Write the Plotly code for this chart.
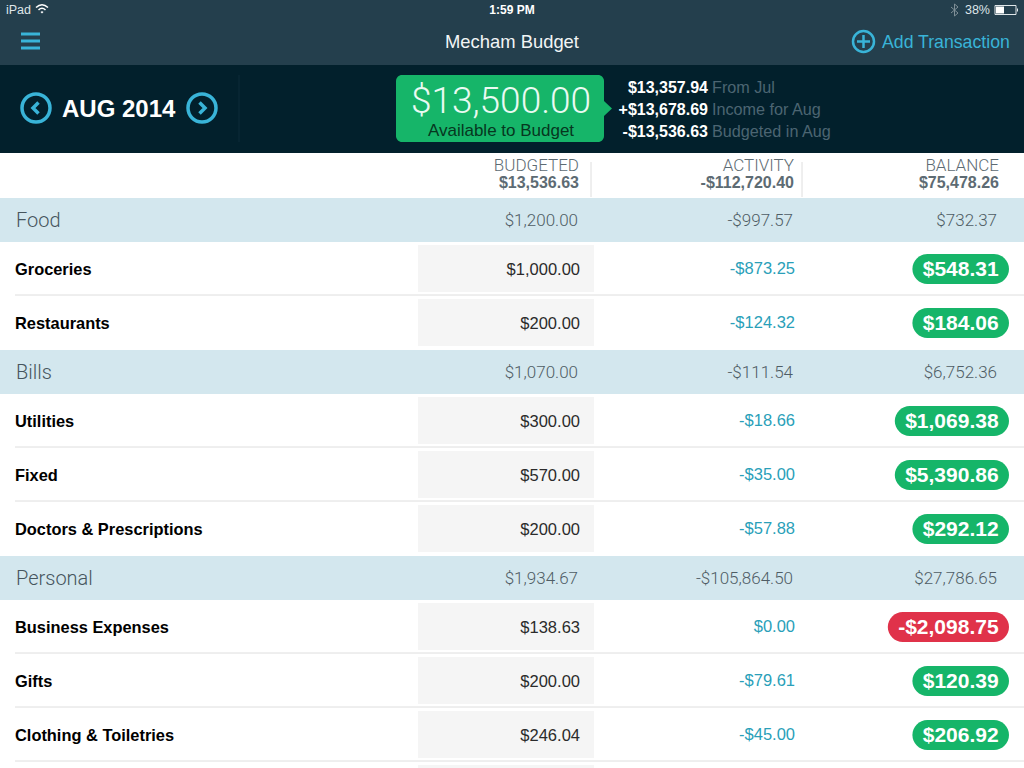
import plotly.graph_objects as go

# table values
groups = ["Food", "Bills", "Personal"]
group_budgeted = [1200.00, 1070.00, 1934.67]
group_activity = [-997.57, -111.54, -105864.50]
group_balance = [732.37, 6752.36, 27786.65]

categories = [
    ["Groceries", "Restaurants"],
    ["Utilities", "Fixed", "Doctors & Prescriptions"],
    ["Business Expenses", "Gifts", "Clothing & Toiletries"],
]
budgeted = [[1000.00, 200.00], [300.00, 570.00, 200.00], [138.63, 200.00, 246.04]]
activity = [[-873.25, -124.32], [-18.66, -35.00, -57.88], [0.00, -79.61, -45.00]]
balance = [[548.31, 184.06], [1069.38, 5390.86, 292.12], [-2098.75, 120.39, 206.92]]

total_labels = ["BUDGETED", "ACTIVITY", "BALANCE"]
total_values = [13536.63, -112720.40, 75478.26]

summary_values = ["$13,357.94", "+$13,678.69", "-$13,536.63"]
summary_labels = ["From Jul", "Income for Aug", "Budgeted in Aug"]

SANS = "Liberation Sans"
LIGHT = "Roboto"
BAR = "#243f4d"
DARK = "#02202c"
BAND = "#d3e7ee"
CELL = "#f5f5f5"
RULE = "#dedede"
GREEN = "#16b569"
RED = "#e0324a"
TEAL = "#2a9fb9"
ICON = "#39b4d8"
MUTED = "#4f5d65"


def money(v):
    return f"-${-v:,.2f}" if v < 0 else f"${v:,.2f}"


def rounded(x0, y0, x1, y1, r):
    k = r * 0.45  # control point inset for a circular-looking corner
    return (f"M{x0+r},{y0} L{x1-r},{y0} C{x1-k},{y0} {x1},{y0+k} {x1},{y0+r} L{x1},{y1-r} "
            f"C{x1},{y1-k} {x1-k},{y1} {x1-r},{y1} L{x0+r},{y1} C{x0+k},{y1} {x0},{y1-k} {x0},{y1-r} "
            f"L{x0},{y0+r} C{x0},{y0+k} {x0+k},{y0} {x0+r},{y0} Z")


def pill_width(s):
    # rough text width at the pill font size plus padding
    w = 0
    for c in s:
        w += 5.9 if c in ".," else 7 if c == "-" else 11.7
    return w + 20.5


fig = go.Figure()
shapes = []


def rect(x0, y0, x1, y1, color):
    shapes.append(dict(type="rect", x0=x0, y0=y0, x1=x1, y1=y1, fillcolor=color, line_width=0, layer="below"))


def line(x0, y0, x1, y1, color, width=1):
    shapes.append(dict(type="line", x0=x0, y0=y0, x1=x1, y1=y1, line=dict(color=color, width=width), layer="below"))


def path(d, fill=None, stroke=None, width=0):
    shapes.append(dict(type="path", path=d, fillcolor=fill if fill else "rgba(0,0,0,0)",
                       line=dict(color=stroke if stroke else "rgba(0,0,0,0)", width=width), layer="below"))


def circle(cx, cy, r, color, width):
    shapes.append(dict(type="circle", x0=cx-r, y0=cy-r, x1=cx+r, y1=cy+r,
                       line=dict(color=color, width=width), layer="below"))


def text(x, y, s, size, color, pos="middle right", family=SANS, weight=None):
    # text sits a little high in its box, so nudge it down
    fig.add_trace(go.Scatter(x=[x], y=[y + 2], text=[s], mode="text", textposition=pos, hoverinfo="skip",
                             showlegend=False,
                             textfont=dict(family=family, size=size, color=color, weight=weight or "normal")))


# top bars
rect(0, 0, 1024, 65, BAR)
rect(0, 65, 1024, 153, DARK)
line(239, 75, 239, 142, "#0c2b38")

# status bar
text(6, 8.5, "iPad", 12.5, "#dfe6e9")
path("M36,7.5 Q42,2 48,7.5", None, "#ffffff", 1.5)
path("M38.5,10 Q42,6.5 45.5,10", None, "#ffffff", 1.5)
path("M40.5,12 L42,13.5 L43.5,12 Q42,10.7 40.5,12 Z", "#ffffff")
text(512, 8.5, "1:59 PM", 12, "#ffffff", "middle center", weight="bold")
path("M951,7 L958,13 L954.5,16 L954.5,4 L958,7 L951,13", None, "#7f8f97", 1)
text(990, 8.5, "38%", 12.5, "#dfe6e9", "middle left")
shapes.append(dict(type="rect", x0=995, y0=5.5, x1=1016, y1=14.5, line=dict(color="#dfe6e9", width=1), layer="below"))
rect(996, 6.5, 1004, 13.5, "#ffffff")
rect(1017, 8.5, 1018, 11.5, "#dfe6e9")

# nav bar
for y in (34, 41, 48):
    line(21, y, 40, y, ICON, 3)
text(512, 41.5, "Mecham Budget", 18.4, "#f2f5f6", "middle center")
circle(863.5, 41.5, 10.5, ICON, 2.5)
line(857, 41.5, 870, 41.5, ICON, 2.5)
line(863.5, 35, 863.5, 48, ICON, 2.5)
text(882, 41.5, "Add Transaction", 17.7, ICON)

# month selector
circle(36, 108, 14, ICON, 3.5)
circle(202, 108, 14, ICON, 3.5)
path("M38.5,102.5 L33,108 L38.5,113.5", None, ICON, 3.5)
path("M199.5,102.5 L205,108 L199.5,113.5", None, ICON, 3.5)
text(62, 108.5, "AUG 2014", 24, "#ffffff", weight="bold")

# available to budget box
path(rounded(396, 75, 604, 142, 6), GREEN)
path("M604,101 L612,108.5 L604,116 Z", GREEN)
text(501, 102, money(13500.00), 37, "#eafaf2", "middle center", family=LIGHT, weight=300)
text(501, 130, "Available to Budget", 17, "#06371f", "middle center")
for i in range(3):
    y = 87 + 22 * i
    text(708, y, summary_values[i], 16, "#ffffff", "middle left", weight="bold")
    text(712, y, summary_labels[i], 16.2, "#4c6572")

# column totals
col_right = [579, 794, 999]
for i in range(3):
    text(col_right[i], 165, total_labels[i], 17, "#5d6b73", "middle left", family=LIGHT, weight=300)
    text(col_right[i], 181.5, money(total_values[i]), 16, "#5d6b73", "middle left", weight="bold")
line(591, 162, 591, 197, RULE)
line(802, 162, 802, 197, RULE)

# rows
y = 198
for g in range(len(groups)):
    rect(0, y, 1024, y + 44, BAND)
    mid = y + 22
    text(16, mid, groups[g], 20, "#46555d", family=LIGHT, weight=300)
    text(578, mid, money(group_budgeted[g]), 17, MUTED, "middle left", family=LIGHT, weight=300)
    text(793, mid, money(group_activity[g]), 17, MUTED, "middle left", family=LIGHT, weight=300)
    text(997, mid, money(group_balance[g]), 17, MUTED, "middle left", family=LIGHT, weight=300)
    y += 44
    for c in range(len(categories[g])):
        mid = y + 27
        rect(418, y + 3, 594, y + 50, CELL)
        text(15, mid, categories[g][c], 16.4, "#000000", weight="bold")
        text(580, mid, money(budgeted[g][c]), 16.5, "#2b2b2b", "middle left")
        text(795, mid - 1, money(activity[g][c]), 16.5, TEAL, "middle left")
        label = money(balance[g][c])
        w = pill_width(label)
        path(rounded(1009 - w, mid - 15, 1009, mid + 15, 15), RED if balance[g][c] < 0 else GREEN)
        text(1009 - w / 2, mid, label, 21, "#ffffff", "middle center", weight="bold")
        y += 54
        if g < len(groups) - 1 and c == len(categories[g]) - 1:
            continue
        line(15, y - 1, 1024, y - 1, RULE)

# next row peeking in at the bottom edge
rect(418, 765, 594, 768, CELL)

fig.update_layout(
    width=1024, height=768, margin=dict(l=0, r=0, t=0, b=0),
    paper_bgcolor="#ffffff", plot_bgcolor="#ffffff", shapes=shapes,
    xaxis=dict(range=[0, 1024], visible=False, fixedrange=True),
    yaxis=dict(range=[768, 0], visible=False, fixedrange=True),
    showlegend=False,
)

fig.write_html("out.html", config=dict(displayModeBar=False),
               post_script="document.body.style.margin='0';document.body.style.overflow='hidden';")
